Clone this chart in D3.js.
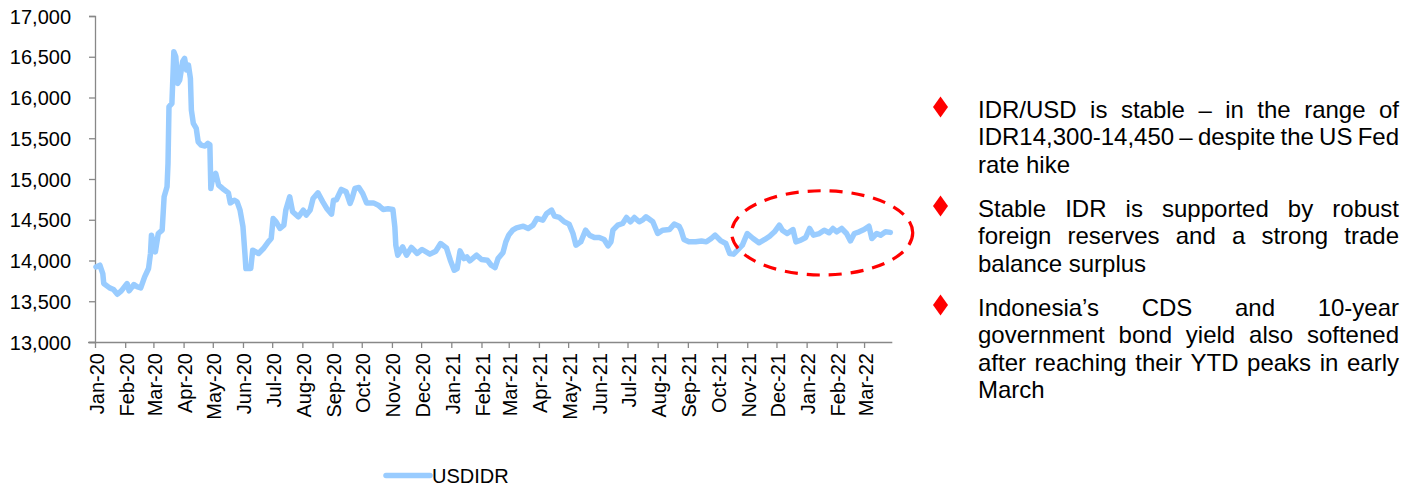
<!DOCTYPE html>
<html>
<head>
<meta charset="utf-8">
<script src="https://cdn.jsdelivr.net/npm/d3@7/dist/d3.min.js"></script>
<style>
  html, body { margin: 0; padding: 0; background: #fff; }
  svg { display: block; font-family: "Liberation Sans", Arial, sans-serif; }
</style>
</head>
<body>
<svg id="chart" width="1421" height="489"></svg>
<script>
// USD/IDR daily closing rate, Jan 2020 – Mar 2022
const dates = [
  "2020-01-02","2020-01-06","2020-01-09","2020-01-10","2020-01-16","2020-01-20","2020-01-24","2020-01-28",
  "2020-02-03","2020-02-05","2020-02-10","2020-02-13","2020-02-17","2020-02-21","2020-02-25","2020-02-27",
  "2020-02-28","2020-03-03","2020-03-06","2020-03-10","2020-03-12","2020-03-15","2020-03-16","2020-03-17",
  "2020-03-20","2020-03-22","2020-03-24","2020-03-26","2020-03-28","2020-03-31","2020-04-02","2020-04-04",
  "2020-04-06","2020-04-08","2020-04-09","2020-04-11","2020-04-14","2020-04-16","2020-04-19","2020-04-23",
  "2020-04-26","2020-04-28","2020-04-29","2020-05-01","2020-05-04","2020-05-07","2020-05-11","2020-05-17",
  "2020-05-19","2020-05-23","2020-05-26","2020-05-29","2020-06-01","2020-06-03","2020-06-04","2020-06-09",
  "2020-06-11","2020-06-17","2020-06-22","2020-06-27","2020-06-30","2020-07-02","2020-07-05","2020-07-09",
  "2020-07-13","2020-07-15","2020-07-19","2020-07-22","2020-07-28","2020-08-02","2020-08-05","2020-08-09",
  "2020-08-12","2020-08-17","2020-08-22","2020-08-26","2020-08-31","2020-09-02","2020-09-05","2020-09-10",
  "2020-09-15","2020-09-19","2020-09-21","2020-09-24","2020-09-28","2020-10-02","2020-10-06","2020-10-13",
  "2020-10-18","2020-10-23","2020-10-28","2020-11-02","2020-11-04","2020-11-05","2020-11-07","2020-11-12",
  "2020-11-16","2020-11-21","2020-11-27","2020-12-02","2020-12-10","2020-12-16","2020-12-21","2020-12-27",
  "2020-12-31","2021-01-04","2021-01-07","2021-01-10","2021-01-14","2021-01-17","2021-01-20","2021-01-27",
  "2021-02-01","2021-02-07","2021-02-11","2021-02-15","2021-02-18","2021-02-23","2021-02-26","2021-03-01",
  "2021-03-05","2021-03-09","2021-03-16","2021-03-21","2021-03-26","2021-03-30","2021-04-05","2021-04-09",
  "2021-04-14","2021-04-17","2021-04-22","2021-04-27","2021-05-02","2021-05-06","2021-05-09","2021-05-14",
  "2021-05-19","2021-05-23","2021-05-28","2021-06-02","2021-06-07","2021-06-11","2021-06-14","2021-06-16",
  "2021-06-21","2021-06-26","2021-06-30","2021-07-04","2021-07-08","2021-07-13","2021-07-17","2021-07-20",
  "2021-07-27","2021-08-01","2021-08-06","2021-08-13","2021-08-18","2021-08-23","2021-08-25","2021-08-28",
  "2021-09-02","2021-09-09","2021-09-15","2021-09-20","2021-09-25","2021-09-29","2021-10-05","2021-10-10",
  "2021-10-14","2021-10-18","2021-10-22","2021-10-27","2021-11-01","2021-11-07","2021-11-13","2021-11-19",
  "2021-11-24","2021-11-29","2021-12-04","2021-12-07","2021-12-12","2021-12-18","2021-12-21","2021-12-26",
  "2021-12-31","2022-01-04","2022-01-08","2022-01-14","2022-01-19","2022-01-24","2022-01-28","2022-02-01",
  "2022-02-06","2022-02-11","2022-02-15","2022-02-19","2022-02-24","2022-03-01","2022-03-06","2022-03-09",
  "2022-03-14","2022-03-18","2022-03-23","2022-03-28"
];
const usdidr = [
  13921,13942,13840,13717,13664,13644,13586,13627,
  13717,13627,13705,13680,13664,13800,13902,14086,
  14311,14105,14331,14372,14781,14904,15191,15886,
  15928,16562,16500,16173,16214,16439,16481,16337,
  16398,16235,15846,15682,15621,15456,15416,15404,
  15437,15420,14884,15028,15068,14925,14884,14830,
  14707,14740,14720,14618,14413,14086,13902,13902,
  14127,14086,14147,14229,14270,14516,14475,14393,
  14434,14618,14781,14598,14536,14618,14557,14618,
  14761,14830,14720,14639,14569,14740,14745,14872,
  14843,14700,14760,14884,14896,14822,14707,14707,
  14679,14626,14634,14626,14413,14188,14065,14167,
  14065,14160,14086,14135,14078,14114,14208,14155,
  14004,13881,13900,14118,14024,14045,13996,14065,
  14012,14004,13942,13914,14024,14094,14229,14311,
  14372,14400,14421,14393,14434,14516,14495,14577,
  14618,14544,14528,14475,14446,14331,14188,14229,
  14372,14311,14282,14282,14258,14180,14229,14372,
  14434,14454,14528,14475,14528,14475,14503,14536,
  14475,14331,14372,14380,14446,14421,14372,14258,
  14229,14229,14240,14229,14270,14311,14240,14208,
  14086,14078,14127,14188,14331,14270,14217,14258,
  14298,14352,14434,14372,14331,14380,14229,14249,
  14282,14393,14311,14331,14372,14340,14393,14352,
  14393,14331,14240,14331,14352,14380,14421,14270,
  14331,14311,14352,14345
];
const yTicks = [13000, 13500, 14000, 14500, 15000, 15500, 16000, 16500, 17000];
const seriesName = "USDIDR";
const highlightStart = "2021-10-16";   // span of the stable range called out on the right
const highlightEnd = "2022-04-20";
const highlightLow = 13822;
const highlightHigh = 14856;
const bullets = [
  ["IDR/USD is stable – in the range of", "IDR14,300-14,450 – despite the US Fed", "rate hike"],
  ["Stable IDR is supported by robust", "foreign reserves and a strong trade", "balance surplus"],
  ["Indonesia’s CDS and 10-year", "government bond yield also softened", "after reaching their YTD peaks in early", "March"]
];

const parse = d3.utcParse("%Y-%m-%d");
const data = dates.map((d, i) => ({ date: parse(d), value: usdidr[i] }));

const svg = d3.select("#chart");
const axisColor = "#888888";
const lineColor = "#99CCFF";

const x = d3.scaleUtc()
  .domain([parse("2020-01-01"), parse("2022-03-30")])
  .range([95, 892.3]);
const y = d3.scaleLinear()
  .domain([13000, 17000])
  .range([342, 16]);

// Y axis
const yAxis = svg.append("g")
  .attr("transform", "translate(95,0)")
  .call(d3.axisLeft(y).tickValues(yTicks).tickSize(6).tickPadding(0)
    .tickFormat(d3.format(",")));
yAxis.select(".domain").attr("stroke", axisColor).attr("stroke-width", 1.3);
yAxis.selectAll(".tick line").attr("stroke", axisColor).attr("stroke-width", 1.3);
yAxis.selectAll(".tick text")
  .attr("x", -24)
  .attr("dy", "0.35em")
  .attr("fill", "#000")
  .style("font-size", "20px")
  .style("font-family", "'Liberation Sans', Arial, sans-serif");

// X axis: monthly ticks, labels rotated vertically
const months = d3.utcMonth.range(parse("2020-01-01"), parse("2022-03-02"));
const xAxis = svg.append("g")
  .attr("transform", "translate(0,342)")
  .call(d3.axisBottom(x).tickValues(months).tickSize(6).tickSizeOuter(0)
    .tickFormat(d3.utcFormat("%b-%y")));
xAxis.select(".domain").attr("stroke", axisColor).attr("stroke-width", 1.3)
  .attr("d", `M88,0.5H${x.range()[1]}`);
xAxis.selectAll(".tick line").attr("stroke", axisColor).attr("stroke-width", 1.3);
xAxis.selectAll(".tick text")
  .attr("transform", "translate(8,11) rotate(-90)")
  .attr("x", 0).attr("y", 0).attr("dy", 0)
  .attr("text-anchor", "end")
  .attr("fill", "#000")
  .style("font-size", "20px")
  .style("font-family", "'Liberation Sans', Arial, sans-serif");

// Exchange rate line
const line = d3.line()
  .x(d => x(d.date))
  .y(d => y(d.value))
  .curve(d3.curveLinear);
svg.append("path")
  .datum(data)
  .attr("fill", "none")
  .attr("stroke", lineColor)
  .attr("stroke-width", 5.5)
  .attr("stroke-linejoin", "round")
  .attr("stroke-linecap", "round")
  .attr("d", line);

// Dashed ellipse around the recent stable range
const ex0 = x(parse(highlightStart)), ex1 = x(parse(highlightEnd));
const ey0 = y(highlightHigh), ey1 = y(highlightLow);
svg.append("ellipse")
  .attr("cx", (ex0 + ex1) / 2)
  .attr("cy", (ey0 + ey1) / 2)
  .attr("rx", (ex1 - ex0) / 2)
  .attr("ry", (ey1 - ey0) / 2)
  .attr("fill", "none")
  .attr("stroke", "#FF0000")
  .attr("stroke-width", 3.2)
  .attr("stroke-dasharray", "13 9");

// Legend
const legend = svg.append("g").attr("transform", "translate(386,475.5)");
legend.append("line")
  .attr("x1", 0).attr("x2", 44).attr("y1", 0).attr("y2", 0)
  .attr("stroke", lineColor).attr("stroke-width", 5.5).attr("stroke-linecap", "round");
legend.append("text")
  .attr("x", 46).attr("y", 0).attr("dy", "0.36em")
  .style("font-size", "20px")
  .text(seriesName);

// Bullet commentary with justified lines
const textLeft = 978, textRight = 1399, lineGap = 27.5;
const paraTops = [117.5, 216.5, 315.5];
const measure = svg.append("text").style("font-size", "24px").attr("visibility", "hidden");
function wordWidth(w) { measure.text(w); return measure.node().getComputedTextLength(); }

bullets.forEach((lines, p) => {
  const base = paraTops[p];
  svg.append("path")
    .attr("d", `M940.5,${base - 21} L948,${base - 10.5} L940.5,${base} L933,${base - 10.5} Z`)
    .attr("fill", "#FF0000");
  lines.forEach((ln, i) => {
    const yy = base + i * lineGap;
    const words = ln.split(" ");
    const t = svg.append("text").attr("y", yy).style("font-size", "24px").attr("fill", "#000");
    const last = i === lines.length - 1;
    if (last || words.length === 1) {
      t.attr("x", textLeft).text(ln);
      return;
    }
    const widths = words.map(wordWidth);
    const total = d3.sum(widths);
    const gap = (textRight - textLeft - total) / (words.length - 1);
    let cx = textLeft;
    words.forEach((w, k) => {
      t.append("tspan").attr("x", cx).text(w);
      cx += widths[k] + gap;
    });
  });
});
measure.remove();
</script>
</body>
</html>
